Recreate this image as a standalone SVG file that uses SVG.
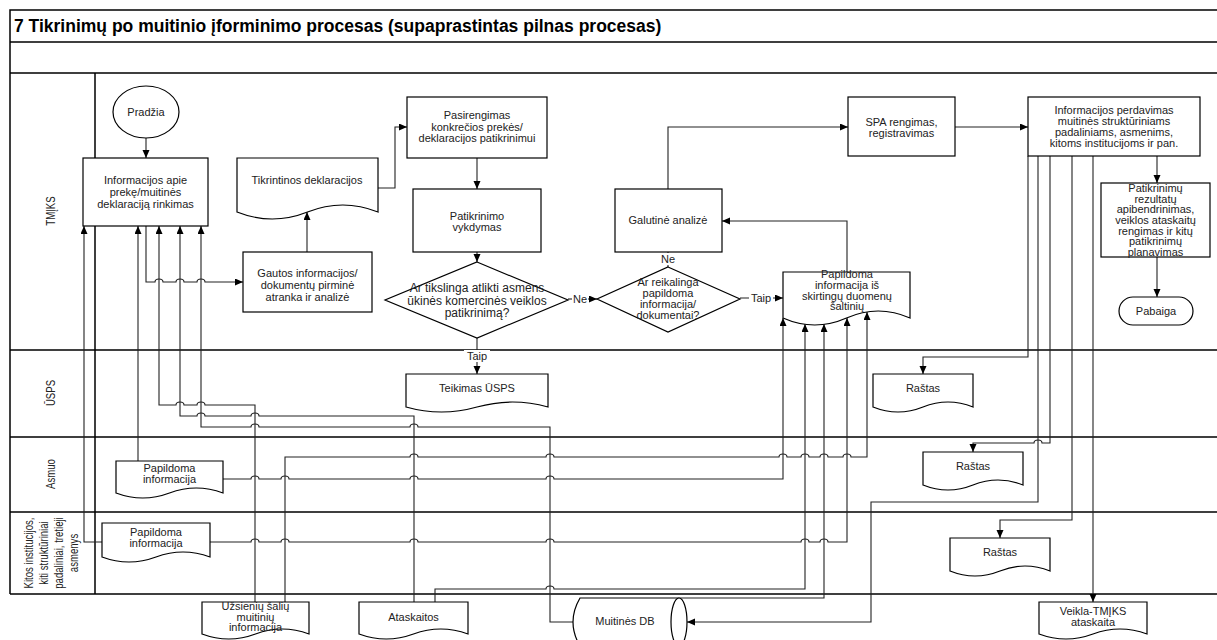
<svg xmlns="http://www.w3.org/2000/svg" width="1217" height="640" viewBox="0 0 1217 640">
<style>
.frame{fill:none;stroke:#000;stroke-width:1.5}
.shape{fill:#fff;stroke:#000;stroke-width:1.2}
.conn{fill:none;stroke:#222;stroke-width:1.1}
text{font-family:"Liberation Sans",Arial,sans-serif;font-size:11px;fill:#222;text-anchor:middle}
.title{font-size:17.5px;font-weight:bold;text-anchor:start;fill:#000}
.dia{font-size:12px}
.dia2{font-size:11px}
.lane{font-size:12px}
.lbl{fill:#fff;stroke:none}
</style>
<defs>
<marker id="arr" markerUnits="userSpaceOnUse" markerWidth="9" markerHeight="8" refX="8" refY="3.5" orient="auto">
<path d="M0,0 L8,3.5 L0,7 z" fill="#000"/>
</marker>
</defs>
<rect width="1217" height="640" fill="#fff"/>
<g id="frame">
<path class="frame" d="M1217,10 H10 V594 M10,42 H1217 M10,73 H1217 M95,73 V594 M10,350 H1217 M10,437 H1217 M10,512 H1217 M10,594 H1217"/>
<text class="title" x="14" y="32">7 Tikrinimų po muitinio įforminimo procesas (supaprastintas pilnas procesas)</text>
</g>
<g id="lanes">
<text class="lane" transform="translate(55,211) rotate(-90) scale(0.8,1)">TMĮKS</text>
<text class="lane" transform="translate(55,393) rotate(-90) scale(0.8,1)">ŪSPS</text>
<text class="lane" transform="translate(55,474) rotate(-90) scale(0.8,1)">Asmuo</text>
<text class="lane" transform="translate(33,553) rotate(-90) scale(0.8,1)">Kitos institucijos,</text>
<text class="lane" transform="translate(48,553) rotate(-90) scale(0.8,1)">kiti struktūriniai</text>
<text class="lane" transform="translate(63,553) rotate(-90) scale(0.8,1)">padaliniai, tretieji</text>
<text class="lane" transform="translate(78,553) rotate(-90) scale(0.8,1)">asmenys</text>
</g>
<g id="connectors">
<path class="conn" marker-end="url(#arr)" d="M146,138 V158"/>
<path class="conn" marker-end="url(#arr)" d="M146,226 V282 H155 a4,3 0 0 1 8,0 H176 a4,3 0 0 1 8,0 H197 a4,3 0 0 1 8,0 H243"/>
<path class="conn" marker-end="url(#arr)" d="M307,252 V212"/>
<path class="conn" marker-end="url(#arr)" d="M378,188 H395 V127 H407"/>
<path class="conn" marker-end="url(#arr)" d="M477,158 V189"/>
<path class="conn" marker-end="url(#arr)" d="M477,252 V262"/>
<path class="conn" marker-end="url(#arr)" d="M568,299 H597"/>
<path class="conn" marker-end="url(#arr)" d="M477,338 V374"/>
<path class="conn" d="M668,267 V252"/>
<path class="conn" marker-end="url(#arr)" d="M740,298 H783"/>
<path class="conn" marker-end="url(#arr)" d="M847,272 V221 H722"/>
<path class="conn" marker-end="url(#arr)" d="M668,189 V127 H848"/>
<path class="conn" marker-end="url(#arr)" d="M955,127 H1028"/>
<path class="conn" marker-end="url(#arr)" d="M1157,156 V183"/>
<path class="conn" marker-end="url(#arr)" d="M1157,257 V297"/>
<path class="conn" marker-end="url(#arr)" d="M1028,156 V357 H923 V374"/>
<path class="conn" marker-end="url(#arr)" d="M1038,156 V502 H871 V622 H687"/>
<path class="conn" marker-end="url(#arr)" d="M1050,156 V443 H1042 a4,3 0 0 0 -8,0 H973 V452"/>
<path class="conn" marker-end="url(#arr)" d="M1072,156 V520 H1000 V538"/>
<path class="conn" marker-end="url(#arr)" d="M1093,156 V602"/>
<path class="conn" marker-end="url(#arr)" d="M102,542 H84 V226"/>
<path class="conn" marker-end="url(#arr)" d="M138,461 V226"/>
<path class="conn" marker-end="url(#arr)" d="M255,602 V405 H205 a4,3 0 0 0 -8,0 H184 a4,3 0 0 0 -8,0 H159 V226"/>
<path class="conn" marker-end="url(#arr)" d="M414,602 V416 H259 a4,3 0 0 0 -8,0 H205 a4,3 0 0 0 -8,0 H180 V226"/>
<path class="conn" marker-end="url(#arr)" d="M573,622 H550 V427 H418 a4,3 0 0 0 -8,0 H259 a4,3 0 0 0 -8,0 H201 V226"/>
<path class="conn" marker-end="url(#arr)" d="M223,479 H251 a4,3 0 0 1 8,0 H281 a4,3 0 0 1 8,0 H410 a4,3 0 0 1 8,0 H546 a4,3 0 0 1 8,0 H783 V318"/>
<path class="conn" marker-end="url(#arr)" d="M210,542 H251 a4,3 0 0 1 8,0 H281 a4,3 0 0 1 8,0 H410 a4,3 0 0 1 8,0 H546 a4,3 0 0 1 8,0 H801 a4,3 0 0 1 8,0 H820 a4,3 0 0 1 8,0 H847 V318"/>
<path class="conn" marker-end="url(#arr)" d="M435,602 V589 H546 a4,3 0 0 1 8,0 H805 V324"/>
<path class="conn" marker-end="url(#arr)" d="M679,598 H824 V324"/>
<path class="conn" marker-end="url(#arr)" d="M285,602 V457 H410 a4,3 0 0 1 8,0 H546 a4,3 0 0 1 8,0 H779 a4,3 0 0 1 8,0 H801 a4,3 0 0 1 8,0 H820 a4,3 0 0 1 8,0 H843 a4,3 0 0 1 8,0 H867 V312"/>
<rect class="lbl" x="572" y="292" width="16" height="14"/>
<text x="580" y="303">Ne</text>
<rect class="lbl" x="660" y="253" width="16" height="12"/>
<text x="668" y="263">Ne</text>
<rect class="lbl" x="749" y="291" width="24" height="13"/>
<text x="761" y="302">Taip</text>
<rect class="lbl" x="464" y="350" width="26" height="12"/>
<text x="477" y="360">Taip</text>
</g>
<g id="n-pradzia"><ellipse class="shape" cx="146" cy="112" rx="33" ry="26"/><text x="146" y="116">Pradžia</text></g>
<g id="n-info"><rect class="shape" x="83" y="158" width="125" height="68"/><text x="145.5" y="184">Informacijos apie</text><text x="145.5" y="196">prekę/muitinės</text><text x="145.5" y="208">deklaraciją rinkimas</text></g>
<g id="n-tikrintinos"><path class="shape" d="M237,158 H378 V212 Q342.75,198 307.5,212 T237,212 Z"/><text x="307" y="184">Tikrintinos deklaracijos</text></g>
<g id="n-gautos"><rect class="shape" x="243" y="252" width="129" height="60"/><text x="307.5" y="277">Gautos informacijos/</text><text x="307.5" y="289">dokumentų pirminė</text><text x="307.5" y="301">atranka ir analizė</text></g>
<g id="n-pasirengimas"><rect class="shape" x="407" y="97" width="140" height="61"/><text x="477" y="119">Pasirengimas</text><text x="477" y="131">konkrečios prekės/</text><text x="477" y="142">deklaracijos patikrinimui</text></g>
<g id="n-patikrinimo"><rect class="shape" x="413" y="189" width="128" height="63"/><text x="477" y="220">Patikrinimo</text><text x="477" y="231">vykdymas</text></g>
<g id="n-d1"><path class="shape" d="M477,262 L568,300 L477,338 L385,300 Z"/><text class="dia" x="477" y="292">Ar tikslinga atlikti asmens</text><text class="dia" x="477" y="305">ūkinės komercinės veiklos</text><text class="dia" x="477" y="317">patikrinimą?</text></g>
<g id="n-d2"><path class="shape" d="M668,267 L740,299 L668,332 L597,299 Z"/><text class="dia2" x="668" y="286">Ar reikalinga</text><text class="dia2" x="668" y="297">papildoma</text><text class="dia2" x="668" y="308">informacija/</text><text class="dia2" x="668" y="319">dokumentai?</text></g>
<g id="n-galutine"><rect class="shape" x="615" y="189" width="107" height="63"/><text x="668" y="224">Galutinė analizė</text></g>
<g id="n-spa"><rect class="shape" x="848" y="97" width="107" height="59"/><text x="901.5" y="126">SPA rengimas,</text><text x="901.5" y="137">registravimas</text></g>
<g id="n-infop"><rect class="shape" x="1028" y="97" width="172" height="59"/><text x="1114" y="114">Informacijos perdavimas</text><text x="1114" y="125">muitinės struktūriniams</text><text x="1114" y="136">padaliniams, asmenims,</text><text x="1114" y="147">kitoms institucijoms ir pan.</text></g>
<g id="n-patikrinimu"><rect class="shape" x="1101" y="183" width="109" height="74"/><text x="1155.5" y="192">Patikrinimų</text><text x="1155.5" y="203">rezultatų</text><text x="1155.5" y="213">apibendrinimas,</text><text x="1155.5" y="224">veiklos ataskaitų</text><text x="1155.5" y="235">rengimas ir kitų</text><text x="1155.5" y="245">patikrinimų</text><text x="1155.5" y="256">planavimas</text></g>
<g id="n-pabaiga"><rect class="shape" x="1119" y="297" width="74" height="28" rx="14"/><text x="1156" y="315">Pabaiga</text></g>
<g id="n-p3"><path class="shape" d="M783,272 H910 V318 Q878.25,304 846.5,318 T783,318 Z"/><text x="847" y="278">Papildoma</text><text x="847" y="289">informacija iš</text><text x="847" y="300">skirtingų duomenų</text><text x="847" y="310">šaltinių</text></g>
<g id="n-teikimas"><path class="shape" d="M406,374 H548 V407 Q512.5,397 477,407 T406,407 Z"/><text x="477" y="392">Teikimas ŪSPS</text></g>
<g id="n-rastas1"><path class="shape" d="M873,374 H973 V407 Q948,397 923,407 T873,407 Z"/><text x="923" y="392">Raštas</text></g>
<g id="n-rastas2"><path class="shape" d="M923,452 H1023 V485 Q998,475 973,485 T923,485 Z"/><text x="973" y="470">Raštas</text></g>
<g id="n-rastas3"><path class="shape" d="M950,538 H1050 V571 Q1025,561 1000,571 T950,571 Z"/><text x="1000" y="556">Raštas</text></g>
<g id="n-asmuo-pap"><path class="shape" d="M116,461 H223 V493 Q196.25,483 169.5,493 T116,493 Z"/><text x="169.5" y="472">Papildoma</text><text x="169.5" y="483">informacija</text></g>
<g id="n-kitos-pap"><path class="shape" d="M102,523 H210 V557 Q183,547 156,557 T102,557 Z"/><text x="156" y="536">Papildoma</text><text x="156" y="547">informacija</text></g>
<g id="n-uzsieniu"><path class="shape" d="M202,602 H309 V634 Q282.25,624 255.5,634 T202,634 Z"/><text x="255.5" y="610">Užsienių šalių</text><text x="255.5" y="621">muitinių</text><text x="255.5" y="631">informacija</text></g>
<g id="n-ataskaitos"><path class="shape" d="M359,602 H468 V634 Q440.75,624 413.5,634 T359,634 Z"/><text x="413.5" y="621">Ataskaitos</text></g>
<g id="n-db"><path class="shape" d="M679,598 H580 Q566,622 580,646 H679"/><ellipse class="shape" cx="679" cy="622" rx="8" ry="24"/><text x="625" y="625">Muitinės DB</text></g>
<g id="n-veikla"><path class="shape" d="M1039,602 H1147 V634 Q1120,624 1093,634 T1039,634 Z"/><text x="1093" y="615">Veikla-TMĮKS</text><text x="1093" y="626">ataskaita</text></g>
</svg>
